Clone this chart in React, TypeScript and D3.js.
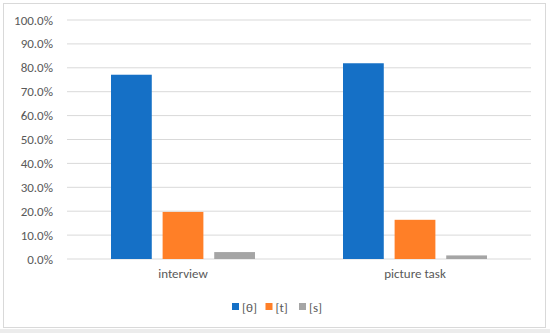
import React from 'react';
import * as d3 from 'd3';

const categories = ['interview', 'picture task'];
const seriesNames = ['[θ]', '[t]', '[s]'];
const seriesColors = ['#1570c6', '#ff7f27', '#a5a5a5'];
const thetaValues = [0.771, 0.819];
const tValues = [0.197, 0.164];
const sValues = [0.029, 0.015];
const yTicks = [0, 0.1, 0.2, 0.3, 0.4, 0.5, 0.6, 0.7, 0.8, 0.9, 1.0];

const App = () => {
  const width = 550;
  const height = 333;
  const margin = { top: 20, right: 19, bottom: 74, left: 67 };
  const font = 'Carlito, "Liberation Sans", "DejaVu Sans", sans-serif';

  const series = [thetaValues, tValues, sValues];

  // scales
  const x = d3
    .scaleBand()
    .domain(categories)
    .range([margin.left, width - margin.right])
    .paddingInner(0)
    .paddingOuter(0);

  const y = d3
    .scaleLinear()
    .domain([0, 1])
    .range([height - margin.bottom, margin.top]);

  // bars inside each category band
  const inner = d3
    .scaleBand()
    .domain(seriesNames)
    .range([44, x.bandwidth() - 44])
    .paddingInner(0.21)
    .paddingOuter(0);

  const fmt = d3.format('.1%');

  return (
    <svg
      width={width}
      height={height}
      style={{ position: 'absolute', left: 0, top: 0, background: '#ececec' }}
    >
      <rect x={0} y={0} width={width} height={329} fill="#fff" />
      <rect x={3.5} y={3.5} width={542} height={324} fill="#fff" stroke="#d9d9d9" />

      {/* gridlines and y labels */}
      {yTicks.map(t => (
        <g key={t}>
          <line
            x1={margin.left}
            x2={width - margin.right}
            y1={y(t)}
            y2={y(t)}
            stroke="#d9d9d9"
            strokeWidth={1}
          />
          <text
            x={53}
            y={y(t)}
            dy="0.35em"
            textAnchor="end"
            fontFamily={font}
            fontSize={13}
            fill="#595959"
          >
            {fmt(t)}
          </text>
        </g>
      ))}

      {/* bars */}
      {categories.map((c, ci) => (
        <g key={c} transform={`translate(${x(c)},0)`}>
          {series.map((vals, si) => (
            <rect
              key={si}
              x={inner(seriesNames[si])}
              y={y(vals[ci])}
              width={inner.bandwidth()}
              height={y(0) - y(vals[ci])}
              fill={seriesColors[si]}
            />
          ))}
          <text
            x={x.bandwidth() / 2}
            y={y(0) + 18}
            dy="0.1em"
            textAnchor="middle"
            fontFamily={font}
            fontSize={13}
            fill="#595959"
          >
            {c}
          </text>
        </g>
      ))}

      {/* legend */}
      {seriesNames.map((s, i) => {
        const lx = 232 + i * 33.5;
        return (
          <g key={s}>
            <rect x={lx} y={303} width={7} height={7} fill={seriesColors[i]} />
            <text
              x={lx + 10}
              y={307}
              dy="0.35em"
              fontFamily={font}
              fontSize={13}
              fill="#595959"
            >
              {s}
            </text>
          </g>
        );
      })}
    </svg>
  );
};

export default App;
